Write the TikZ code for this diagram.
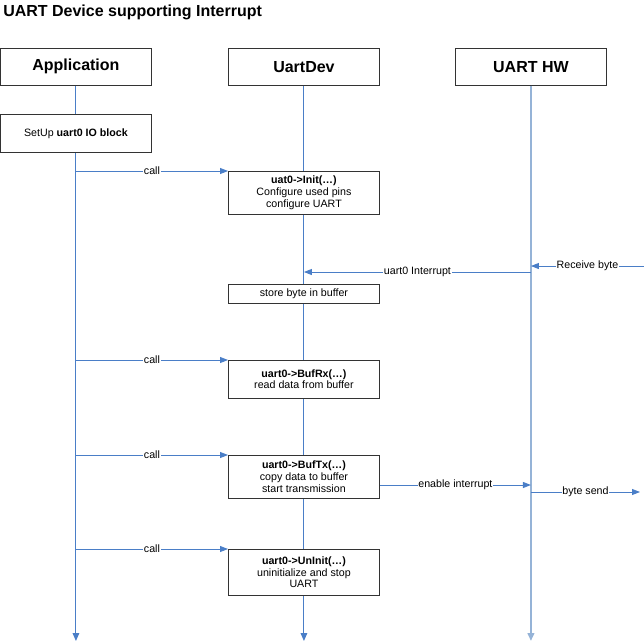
\documentclass[tikz,border=0pt]{standalone}
\usepackage{fontspec}
\setmainfont{Liberation Sans}
\usetikzlibrary{positioning,arrows.meta}
\definecolor{lifeblue}{HTML}{4A7EC7}
\definecolor{hwblue}{HTML}{95B3D7}

\begin{document}
\begin{tikzpicture}[x=0.75pt,y=-0.75pt,
        lane/.style={draw=black!80, fill=white, minimum width=113.5pt, minimum height=27.75pt, anchor=north west, inner sep=0pt, font=\fontsize{12}{14}\selectfont\bfseries},
        stepbox/.style={draw=black!80, fill=white, minimum width=113.5pt, anchor=north west, align=center, inner sep=0pt, font=\fontsize{8}{8.8}\selectfont},
        life/.style={draw=lifeblue, line width=0.75pt, -{Triangle[length=6pt,width=5pt]}},
        hwlife/.style={draw=hwblue, line width=1.6pt, -{Triangle[length=6pt,width=5pt]}},
        msg/.style={draw=lifeblue, line width=0.65pt, -{Triangle[length=6pt,width=4.5pt]}},
        lbl/.style={fill=white, inner sep=0.6pt, font=\fontsize{8}{9}\selectfont}
    ]
        \useasboundingbox (0,0) rectangle (644,644);

        % Title
        \node[anchor=west, inner sep=0pt, font=\fontsize{12}{14}\selectfont\bfseries] (title) at (3,12) {UART Device supporting Interrupt};

        % Lanes
        \node[lane] (app) at (0,48) {Application};
        \node[lane] (dev) at (228,48) {UartDev};
        \node[lane] (hw) at (455,48) {UART HW};

        % Lifelines
        \coordinate (bottom) at (0,641);
        \draw[life] (app.south) -- (app.south |- bottom);
        \draw[life] (dev.south) -- (dev.south |- bottom);
        \draw[hwlife] (hw.south) -- (hw.south |- bottom);

        % Steps
        \node[stepbox, minimum height=28.5pt] (setup) at (0,114) {SetUp \textbf{uart0 IO block}};
        \node[stepbox, minimum height=32.25pt] (init) at (228,171) {\textbf{uat0->Init(…)}\\Configure used pins\\configure UART};
        \node[stepbox, minimum height=14.25pt] (store) at (228,284) {store byte in buffer};
        \node[stepbox, minimum height=28.5pt] (bufrx) at (228,360) {\textbf{uart0->BufRx(…)}\\read data from buffer};
        \node[stepbox, minimum height=32.25pt] (buftx) at (228,455) {\textbf{uart0->BufTx(…)}\\copy data to buffer\\start transmission};
        \node[stepbox, minimum height=34.5pt] (uninit) at (228,549) {\textbf{uart0->UnInit(…)}\\uninitialize and stop\\UART};

        % Calls
        \draw[msg] (app.south |- init.north west) -- node[lbl] {call} (init.north west);
        \draw[msg] (app.south |- bufrx.north west) -- node[lbl] {call} (bufrx.north west);
        \draw[msg] (app.south |- buftx.north west) -- node[lbl] {call} (buftx.north west);
        \draw[msg] (app.south |- uninit.north west) -- node[lbl] {call} (uninit.north west);

        % Interrupt path
        \coordinate (rx) at (644,266);
        \coordinate (irq) at (0,272);
        \draw[msg] (rx) -- node[lbl] {Receive byte} (hw.south |- rx);
        \draw[msg] (hw.south |- irq) -- node[lbl] {uart0 Interrupt} (dev.south |- irq);

        % Transmit path
        \coordinate (en) at (0,485);
        \coordinate (tx) at (640,492);
        \draw[msg] (buftx.east |- en) -- node[lbl] {enable interrupt} (hw.south |- en);
        \draw[msg] (hw.south |- tx) -- node[lbl] {byte send} (tx);
    \end{tikzpicture}
\end{document}
